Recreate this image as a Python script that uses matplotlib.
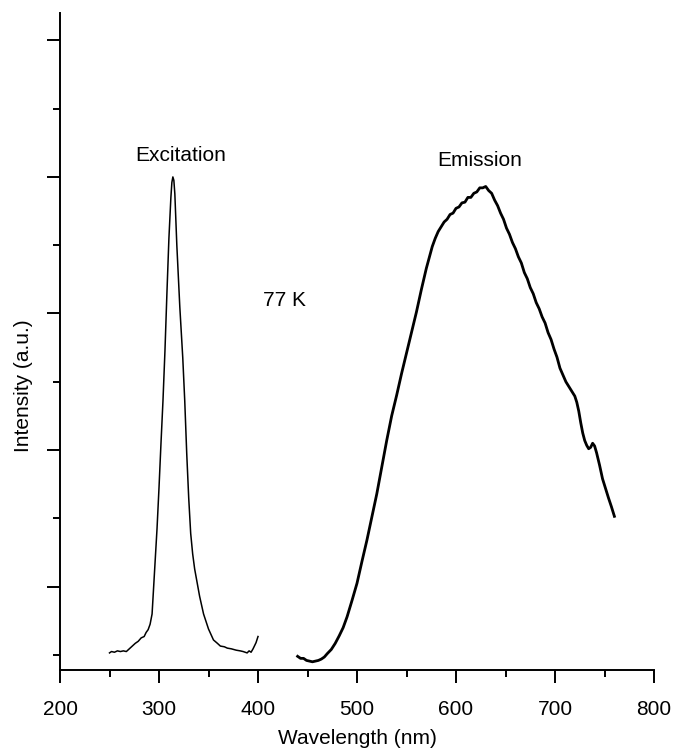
import numpy as np
import matplotlib
matplotlib.use("Agg")
from matplotlib import pyplot as plt
from matplotlib.ticker import MultipleLocator, NullFormatter

plt.rcParams['font.family'] = ['Liberation Sans', 'DejaVu Sans']

# excitation spectrum
exc_wl = [250, 252, 255, 258, 261, 264, 267, 270, 273, 276, 279, 282, 285, 287,
          289, 291, 293, 294, 295, 296, 298, 300, 302, 304, 306, 308, 310, 312,
          313, 314, 315, 316, 318, 321, 324, 326, 328, 330, 332, 334, 336, 338,
          341, 345, 350, 355, 359, 362, 366, 369, 373, 378, 382, 385, 389, 391,
          393, 395, 398, 400]
exc_int = [0.03, 0.05, 0.04, 0.06, 0.05, 0.06, 0.05, 0.09, 0.13, 0.17, 0.20, 0.25,
           0.27, 0.33, 0.37, 0.45, 0.60, 0.85, 1.10, 1.35, 1.85, 2.45, 3.10, 3.72,
           4.45, 5.30, 6.10, 6.70, 6.92, 7.00, 6.95, 6.75, 6.00, 5.10, 4.35, 3.72,
           2.95, 2.30, 1.78, 1.48, 1.26, 1.10, 0.86, 0.60, 0.38, 0.22, 0.17, 0.13,
           0.12, 0.10, 0.09, 0.07, 0.06, 0.05, 0.03, 0.06, 0.04, 0.09, 0.18, 0.27]

# emission spectrum
em_wl = [440, 443, 446, 449, 452, 455, 458, 461, 464, 467, 470, 474, 478, 482,
         486, 490, 495, 500, 505, 510, 515, 520, 525, 530, 535, 540, 545, 550,
         555, 560, 565, 570, 573, 576, 579, 582, 585, 588, 591, 594, 597, 600,
         603, 606, 609, 612, 615, 618, 621, 624, 627, 630, 633, 636, 639, 642,
         645, 648, 651, 654, 657, 660, 663, 666, 669, 672, 675, 678, 681, 684,
         687, 690, 693, 696, 699, 702, 705, 708, 711, 714, 717, 720, 722, 724,
         726, 728, 730, 732, 734, 736, 738, 740, 742, 745, 748, 751, 754, 757,
         760]
em_int = [-0.02, -0.05, -0.05, -0.08, -0.09, -0.10, -0.09, -0.08, -0.06, -0.03,
          0.02, 0.08, 0.17, 0.28, 0.40, 0.56, 0.80, 1.05, 1.37, 1.68, 2.02, 2.36,
          2.75, 3.14, 3.50, 3.80, 4.12, 4.42, 4.72, 5.02, 5.35, 5.66, 5.82, 5.98,
          6.10, 6.20, 6.27, 6.34, 6.38, 6.45, 6.47, 6.54, 6.56, 6.62, 6.63, 6.70,
          6.70, 6.76, 6.78, 6.84, 6.84, 6.86, 6.80, 6.76, 6.66, 6.58, 6.47, 6.38,
          6.25, 6.16, 6.04, 5.95, 5.83, 5.74, 5.60, 5.51, 5.38, 5.29, 5.16, 5.07,
          4.95, 4.86, 4.72, 4.62, 4.48, 4.36, 4.20, 4.10, 4.00, 3.93, 3.86, 3.79,
          3.70, 3.57, 3.40, 3.25, 3.14, 3.07, 3.02, 3.04, 3.10, 3.06, 2.96, 2.78,
          2.58, 2.44, 2.30, 2.17, 2.03]

fig = plt.figure(figsize=(6.75, 7.48), dpi=100)
ax = fig.add_axes([0.0889, 0.1043, 0.8800, 0.8783])

ax.plot(exc_wl, exc_int, color='black', lw=1.1)
ax.plot(em_wl, em_int, color='black', lw=2.0)

ax.set_xlim(200, 800)
ax.set_ylim(-0.22, 9.40)

ax.spines['top'].set_visible(False)
ax.spines['right'].set_visible(False)
for s in ['left', 'bottom']:
    ax.spines[s].set_linewidth(1.4)

ax.xaxis.set_major_locator(MultipleLocator(100))
ax.xaxis.set_minor_locator(MultipleLocator(50))
ax.set_yticks([1, 3, 5, 7, 9])
ax.set_yticks([0, 2, 4, 6, 8], minor=True)
ax.yaxis.set_major_formatter(NullFormatter())

ax.tick_params(axis='both', which='major', direction='out', length=9.5, width=1.4,
               labelsize=15, pad=12)
ax.tick_params(axis='both', which='minor', direction='out', length=5, width=1.4)

ax.set_xlabel('Wavelength (nm)', fontsize=15, labelpad=7)
ax.set_ylabel('Intensity (a.u.)', fontsize=15, va='center')
ax.yaxis.set_label_coords(-0.062, 0.432)

ax.text(322, 7.24, 'Excitation', fontsize=15, ha='center', va='baseline')
ax.text(624, 7.16, 'Emission', fontsize=15, ha='center', va='baseline')
ax.text(427, 5.19, '77 K', fontsize=15, ha='center', va='center')

fig.savefig('out.png', dpi=100)
